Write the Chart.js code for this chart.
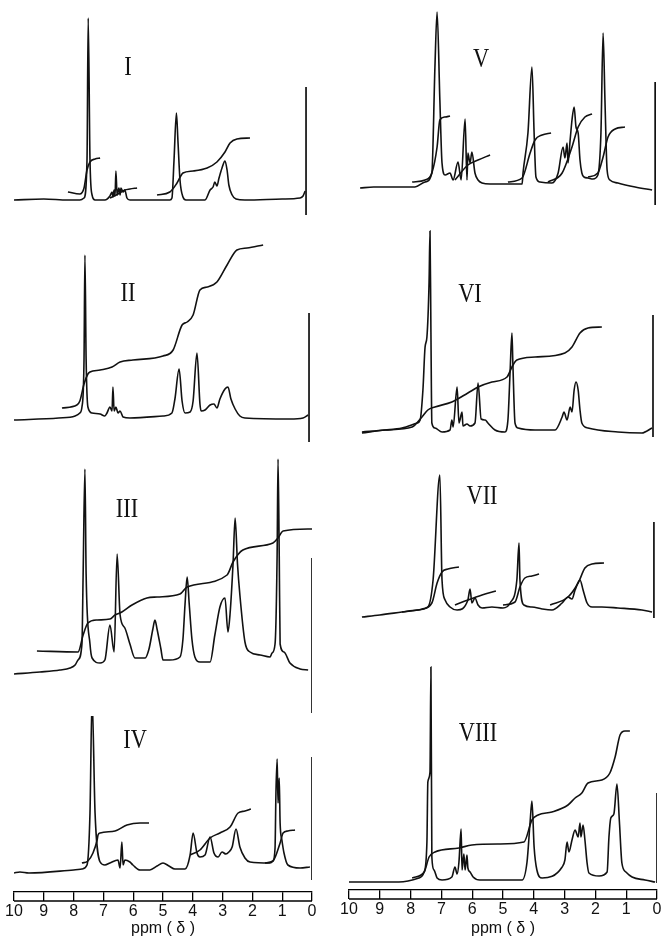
<!DOCTYPE html>
<html>
<head>
<meta charset="utf-8">
<script src="https://cdn.jsdelivr.net/npm/chart.js@4.4.0/dist/chart.umd.min.js"></script>
<style>
  body { margin: 0; background: #fff; }
  #page { position: relative; width: 664px; height: 939px; overflow: hidden; background: #fff; }
  canvas { position: absolute; }
  .lbl {
    position: absolute;
    font-family: "Liberation Serif", "DejaVu Serif", serif;
    font-size: 28px;
    color: #111;
    transform: translate(-50%, -50%) scaleX(0.8);
    line-height: 1;
  }
</style>
</head>
<body>
<div id="page"></div>
<script>
// chemical shift axis, ppm
const ppmTicks = [10, 9, 8, 7, 6, 5, 4, 3, 2, 1, 0];

// spectra: [ppm, signal height]; integrals: list of traces; tms: [ppm, top, bottom]
const specI = [[10.0,0],[9.0,1],[8.2,0],[7.79,0],[7.65,2],[7.55,40],[7.51,182],[7.45,40],[7.38,5],[7.28,0],[6.95,0],[6.78,4],[6.71,8],[6.68,3],[6.64,10],[6.61,4],[6.58,29],[6.54,5],[6.48,12],[6.44,5],[6.41,12],[6.34,8],[6.28,10],[6.21,2],[6.11,0],[4.77,0],[4.70,2],[4.63,40],[4.55,87],[4.50,60],[4.43,20],[4.33,3],[4.23,0],[3.59,0],[3.42,10],[3.32,13],[3.26,18],[3.19,14],[3.12,22],[3.02,32],[2.92,39],[2.85,30],[2.79,15],[2.68,5],[2.55,1],[2.25,0],[1.0,1],[0.40,2],[0.30,4],[0.23,9]];
const intI = [
  [[8.19,8],[7.79,6],[7.65,12],[7.55,30],[7.45,38],[7.28,41],[7.11,42]],
  [[6.78,2],[6.51,6],[6.28,10],[6.11,11],[5.87,12]],
  [[5.20,5],[4.77,8],[4.53,17],[4.33,27],[3.99,29],[3.52,32],[3.19,38],[2.92,48],[2.75,57],[2.52,61],[2.08,62]]
];
const tmsI = [0.2, 113, -15];

const specII = [[10.0,-1],[8.5,1],[7.95,3],[7.79,6],[7.72,12],[7.65,60],[7.62,164],[7.58,60],[7.52,12],[7.38,6],[7.11,5],[6.95,3],[6.88,6],[6.78,12],[6.71,8],[6.68,32],[6.64,8],[6.58,12],[6.51,6],[6.44,8],[6.34,2],[6.11,1],[5.0,3],[4.70,6],[4.60,20],[4.46,50],[4.36,18],[4.26,6],[4.09,7],[3.99,18],[3.86,66],[3.76,15],[3.72,8],[3.59,9],[3.42,14],[3.29,15],[3.19,11],[3.09,20],[2.92,30],[2.82,32],[2.72,20],[2.58,10],[2.42,3],[2.25,1],[0.74,0],[0.30,1],[0.13,4]];
const intII = [
  [[8.39,11],[7.89,14],[7.79,18],[7.65,35],[7.52,45],[7.45,47],[7.11,49],[6.71,52],[6.44,57],[6.01,59],[5.0,63],[4.66,69],[4.36,94],[4.19,97],[3.99,104],[3.76,129],[3.52,132],[3.19,137],[2.85,154],[2.52,169],[2.18,171],[1.64,174]]
];
const tmsII = [0.1, 106, -23];

const specIII = [[10.0,0],[9.13,2],[8.46,4],[8.12,6],[7.95,9],[7.85,14],[7.72,30],[7.68,100],[7.62,205],[7.58,100],[7.45,30],[7.38,16],[7.11,11],[6.95,14],[6.78,49],[6.64,22],[6.54,120],[6.44,59],[6.28,46],[6.11,30],[5.94,16],[5.60,16],[5.47,25],[5.34,45],[5.27,54],[5.20,45],[5.07,25],[5.0,14],[4.77,14],[4.43,17],[4.33,35],[4.26,70],[4.19,97],[4.12,70],[4.03,35],[3.93,17],[3.76,12],[3.42,12],[3.26,39],[3.09,67],[2.92,76],[2.82,42],[2.75,60],[2.65,110],[2.58,156],[2.50,110],[2.42,79],[2.25,32],[2.08,22],[1.74,19],[1.41,17],[1.34,21],[1.24,30],[1.17,120],[1.14,215],[1.10,120],[1.07,30],[0.94,22],[0.74,11],[0.40,5],[0.13,4]];
const intIII = [
  [[9.23,23],[7.85,22],[7.68,39],[7.52,51],[7.21,54],[6.78,55],[6.61,59],[6.38,62],[6.04,69],[5.54,76],[5.20,77],[4.43,80],[4.19,87],[2.85,99],[2.65,112],[2.32,124],[1.31,131],[1.14,136],[0.97,143],[0.0,145]]
];
const tmsIII = [0.0, 116, -39];

const specIV = [[10.0,0],[9.8,1],[9.5,0],[8.0,3],[7.72,4],[7.55,8],[7.45,60],[7.38,175],[7.28,60],[7.11,11],[6.95,8],[6.78,10],[6.51,13],[6.44,5],[6.38,31],[6.34,8],[6.28,13],[6.11,11],[6.01,8],[5.77,3],[5.44,3],[5.2,7],[5.0,10],[4.8,7],[4.6,4],[4.26,4],[4.09,18],[3.99,40],[3.86,20],[3.76,16],[3.59,18],[3.42,36],[3.29,20],[3.15,16],[3.02,21],[2.89,19],[2.79,21],[2.68,26],[2.55,44],[2.42,26],[2.25,15],[2.08,11],[1.41,10],[1.31,12],[1.24,25],[1.21,80],[1.17,114],[1.14,70],[1.10,95],[1.07,50],[1.01,33],[0.94,20],[0.81,8],[0.40,5],[0.07,6]];
const intIV = [
  [[7.72,10],[7.52,12],[7.35,20],[7.21,33],[7.18,38],[7.11,40],[6.61,42],[6.21,48],[5.77,50],[5.47,50]],
  [[4.09,18],[3.76,23],[3.42,35],[3.09,40],[2.75,46],[2.48,60],[2.25,62],[2.05,64]],
  [[1.58,10],[1.31,12],[1.07,30],[0.97,40],[0.81,42],[0.57,43]]
];
const tmsIV = [0.0, 116, -7];

const specV = [[9.64,0],[9.2,1],[8.83,1],[7.86,1],[7.53,6],[7.31,15],[7.21,121],[7.14,176],[7.05,88],[6.98,25],[6.88,13],[6.72,15],[6.62,8],[6.46,26],[6.36,8],[6.23,69],[6.17,8],[6.14,35],[6.07,25],[6.01,36],[5.91,15],[5.81,8],[5.68,5],[5.42,4],[4.38,4],[4.35,15],[4.19,55],[4.06,121],[3.99,55],[3.93,11],[3.80,6],[3.41,5],[3.21,15],[3.05,41],[2.99,30],[2.92,45],[2.89,25],[2.82,48],[2.76,68],[2.69,81],[2.63,61],[2.56,55],[2.50,28],[2.44,15],[2.37,11],[2.24,10],[2.08,9],[1.92,13],[1.82,55],[1.75,155],[1.69,88],[1.62,18],[1.53,8],[1.27,5],[0.71,1],[0.16,-2]];
const intV = [
  [[7.95,6],[7.53,8],[7.31,15],[7.14,41],[7.05,68],[6.88,71],[6.72,72]],
  [[6.56,8],[6.14,23],[5.81,28],[5.42,33]],
  [[4.84,6],[4.38,10],[4.12,35],[3.96,48],[3.73,53],[3.44,55]],
  [[3.54,6],[3.08,15],[2.76,41],[2.56,61],[2.34,71],[2.11,74]],
  [[2.24,11],[1.92,15],[1.75,31],[1.59,51],[1.36,59],[1.04,61]]
];
const tmsV = [0.06, 106, -17];

const specVI = [[9.58,0],[8.83,2],[8.28,4],[7.79,9],[7.69,12],[7.60,42],[7.53,85],[7.47,95],[7.40,150],[7.37,201],[7.34,100],[7.31,9],[7.21,4],[6.98,0],[6.72,2],[6.66,12],[6.62,5],[6.49,45],[6.43,9],[6.33,20],[6.30,6],[6.17,8],[6.07,6],[5.91,9],[5.81,49],[5.71,13],[5.58,12],[5.49,9],[5.26,2],[4.94,0],[4.84,12],[4.77,60],[4.71,99],[4.68,69],[4.61,9],[4.51,4],[3.96,2],[3.31,2],[3.08,15],[3.02,20],[2.92,12],[2.82,25],[2.76,20],[2.69,42],[2.63,50],[2.56,42],[2.50,22],[2.44,9],[2.24,4],[1.27,0],[0.49,-1],[0.16,4]];
const intVI = [
  [[9.58,-1],[8.83,2],[7.95,5],[7.63,15],[7.44,22],[7.21,25],[6.66,30],[6.14,39],[5.81,45],[5.36,50],[4.87,55],[4.71,65],[4.55,72],[3.96,75],[2.99,79],[2.76,85],[2.50,99],[2.24,104],[1.79,105]]
];
const tmsVI = [0.13, 117, -5];

const specVII = [[9.58,0],[9.0,2],[8.28,5],[7.79,7],[7.44,10],[7.27,37],[7.05,142],[6.98,37],[6.88,17],[6.72,10],[6.49,7],[6.14,17],[6.07,28],[6.01,14],[5.91,19],[5.81,12],[5.68,9],[5.36,10],[5.0,9],[4.77,14],[4.55,37],[4.48,74],[4.45,37],[4.32,12],[4.06,10],[3.73,8],[3.41,7],[3.08,14],[2.89,20],[2.76,18],[2.66,27],[2.50,37],[2.40,27],[2.27,14],[2.11,10],[1.79,10],[1.27,9],[0.49,7],[0.16,5]];
const intVII = [
  [[8.28,5],[7.63,8],[7.31,14],[7.14,34],[6.98,45],[6.79,48],[6.43,50]],
  [[6.56,12],[6.14,17],[5.68,22],[5.23,26]],
  [[5.0,12],[4.61,15],[4.45,30],[4.29,39],[4.06,41],[3.83,43]],
  [[3.47,12],[2.89,20],[2.56,34],[2.34,49],[2.11,53],[1.72,54]]
];
const tmsVII = [0.1, 95, -1];

const specVIII = [[10.0,0],[9.0,0],[8.38,0],[7.73,4],[7.56,10],[7.47,40],[7.44,100],[7.37,110],[7.34,215],[7.31,25],[7.24,12],[7.14,4],[6.98,2],[6.66,5],[6.56,15],[6.49,8],[6.43,20],[6.36,53],[6.33,12],[6.27,28],[6.23,12],[6.17,27],[6.14,14],[6.07,10],[5.97,5],[5.75,2],[4.38,2],[4.22,20],[4.12,60],[4.06,81],[3.99,35],[3.90,12],[3.73,4],[3.08,15],[2.99,22],[2.92,40],[2.86,30],[2.76,42],[2.66,52],[2.56,45],[2.50,59],[2.47,45],[2.40,57],[2.34,42],[2.27,19],[2.21,9],[1.88,6],[1.62,10],[1.56,45],[1.50,64],[1.40,68],[1.30,98],[1.22,60],[1.14,19],[1.01,10],[0.81,5],[0.39,2],[0.06,0]];
const intVIII = [
  [[7.95,4],[7.56,10],[7.40,25],[7.21,30],[6.43,34],[6.01,37],[5.13,38],[4.32,40],[4.06,62],[3.86,67],[3.41,70],[2.89,77],[2.66,84],[2.44,89],[2.24,99],[1.79,102],[1.53,109],[1.36,125],[1.20,147],[1.04,151],[0.88,151]]
];
const tmsVIII = [0.0, 89, -1];

// column 0 = left, column 1 = right
const columns = [
  { left: 0, width: 332, padL: 14, padR: 20 },
  { left: 332, width: 332, padL: 17, padR: 7 }
];

const panels = [
  { name: 'I', spec: specI, integ: intI, tms: tmsI, col: 0, top: 0, yMin: -20, yMax: 200, axis: 0, lx: 128, ly: 66 },
  { name: 'II', spec: specII, integ: intII, tms: tmsII, col: 0, top: 219, yMin: -25, yMax: 200, axis: 0, lx: 128, ly: 292 },
  { name: 'III', spec: specIII, integ: intIII, tms: tmsIII, col: 0, top: 444, yMin: -42, yMax: 230, axis: 0, lx: 127, ly: 508 },
  { name: 'IV', spec: specIV, integ: intIV, tms: tmsIV, col: 0, top: 716, yMin: -19, yMax: 157, axis: 47, lx: 135, ly: 739 },
  { name: 'V', spec: specV, integ: intV, tms: tmsV, col: 1, top: 0, yMin: -20, yMax: 188, axis: 0, lx: 481, ly: 58 },
  { name: 'VI', spec: specVI, integ: intVI, tms: tmsVI, col: 1, top: 208, yMin: -8, yMax: 224, axis: 0, lx: 470, ly: 293 },
  { name: 'VII', spec: specVII, integ: intVII, tms: tmsVII, col: 1, top: 440, yMin: -4, yMax: 177, axis: 0, lx: 482, ly: 495 },
  { name: 'VIII', spec: specVIII, integ: intVIII, tms: tmsVIII, col: 1, top: 621, yMin: -8, yMax: 261, axis: 49, lx: 478, ly: 732 }
];

const ink = '#111';
const toXY = arr => arr.map(p => ({ x: p[0], y: p[1] }));

// second line of the ppm bar, below the tick marks
const ppmBar = {
  id: 'ppmBar',
  afterDraw(chart) {
    const x = chart.scales.x;
    if (!x.options.display) return;
    const ctx = chart.ctx;
    const y = chart.chartArea.bottom + 9;
    ctx.save();
    ctx.strokeStyle = '#000';
    ctx.lineWidth = 1.3;
    ctx.beginPath();
    ctx.moveTo(x.left, y);
    ctx.lineTo(x.right, y);
    ctx.stroke();
    ctx.restore();
  }
};

const page = document.getElementById('page');

panels.forEach(p => {
  const c = columns[p.col];
  const h = (p.yMax - p.yMin) + p.axis;
  const cv = document.createElement('canvas');
  cv.width = c.width;
  cv.height = h;
  cv.style.left = c.left + 'px';
  cv.style.top = p.top + 'px';
  page.appendChild(cv);

  const lbl = document.createElement('div');
  lbl.className = 'lbl';
  lbl.textContent = p.name;
  lbl.style.left = p.lx + 'px';
  lbl.style.top = p.ly + 'px';
  page.appendChild(lbl);

  const datasets = [];
  datasets.push({ data: toXY(p.spec), borderColor: ink, borderWidth: 1.6, pointRadius: 0, cubicInterpolationMode: 'monotone' });
  p.integ.forEach(seg => {
    datasets.push({ data: toXY(seg), borderColor: ink, borderWidth: 1.6, pointRadius: 0, cubicInterpolationMode: 'monotone' });
  });
  datasets.push({ data: [{ x: p.tms[0], y: p.tms[1] }, { x: p.tms[0], y: p.tms[2] }], borderColor: ink, borderWidth: 1.7, pointRadius: 0 });

  new Chart(cv, {
    type: 'line',
    data: { datasets: datasets },
    options: {
      responsive: false,
      animation: false,
      devicePixelRatio: 1,
      events: [],
      layout: { padding: { left: c.padL, right: c.padR, top: 0, bottom: 0 } },
      plugins: { legend: { display: false }, tooltip: { enabled: false } },
      scales: {
        x: {
          type: 'linear',
          min: 0,
          max: 10,
          reverse: true,
          display: p.axis > 0,
          afterBuildTicks: s => { s.ticks = ppmTicks.map(v => ({ value: v })); },
          afterFit: s => { s.height = p.axis; },
          grid: { drawOnChartArea: false, drawTicks: true, tickLength: 9, color: '#000', lineWidth: 1.3 },
          border: { display: true, color: '#000', width: 1.3 },
          ticks: { autoSkip: false, maxRotation: 0, padding: 1, color: '#111', font: { family: 'Liberation Sans', size: 16 } },
          title: { display: true, text: 'ppm ( δ )', color: '#111', font: { family: 'Liberation Sans', size: 16 }, padding: { top: 0, bottom: 1 } }
        },
        y: { type: 'linear', min: p.yMin, max: p.yMax, display: false }
      }
    },
    plugins: [ppmBar]
  });
});
</script>
</body>
</html>
